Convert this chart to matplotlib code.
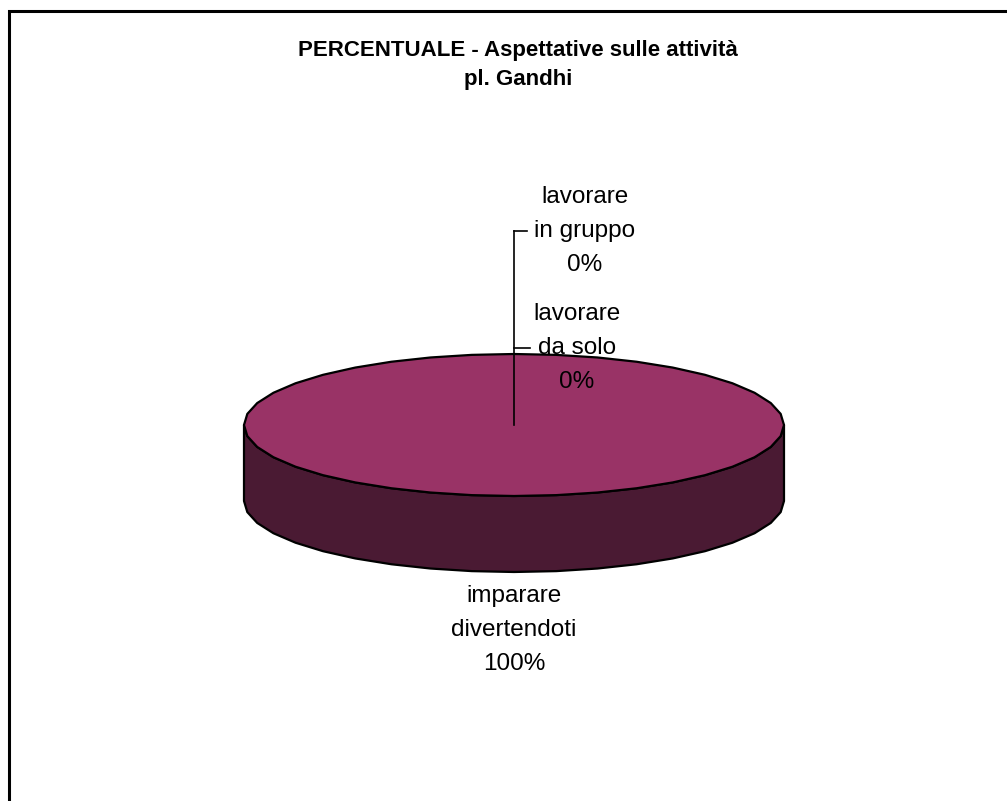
import matplotlib
matplotlib.use("Agg")
import matplotlib.pyplot as plt
import numpy as np

plt.rcParams['font.family'] = ['Liberation Sans', 'DejaVu Sans']

# data
categories = ["imparare\ndivertendoti", "lavorare\nin gruppo", "lavorare\nda solo"]
values = [100, 0, 0]
top_colors = ["#993366", "#9999FF", "#FFFFCC"]
side_colors = ["#4A1A33", "#4D4D80", "#808066"]
title = "PERCENTUALE - Aspettative sulle attività\npl. Gandhi"

# geometry of the 3d pie (pixels)
cx, cy = 514, 425
a, b = 270, 71
depth = 76

fig = plt.figure(figsize=(10.07, 8.01), dpi=100)
ax = fig.add_axes([0, 0, 1, 1])
ax.set_xlim(0, 1007)
ax.set_ylim(801, 0)
ax.axis("off")


def pt(theta_deg, dy=0):
    t = np.radians(theta_deg)
    return cx + a * np.sin(t), cy - b * np.cos(t) + dy


def arc(t0, t1, step=9.0):
    n = max(2, int(abs(t1 - t0) / step) + 1)
    ts = np.linspace(t0, t1, n)
    return ts


# slice angles, clockwise from 12 o'clock (start 0)
total = float(sum(values))
bounds = np.concatenate([[0], np.cumsum(values) / total * 360.0])

# side walls (front half only: 90..270)
for i, v in enumerate(values):
    if v <= 0:
        continue
    s, e = max(bounds[i], 90), min(bounds[i + 1], 270)
    if e <= s:
        continue
    ts = arc(s, e)
    xs, ys = pt(ts)
    xb, yb = pt(ts[::-1], depth)
    ax.fill(np.r_[xs, xb], np.r_[ys, yb], color=side_colors[i],
            ec="black", lw=1.6, zorder=2, joinstyle="round")

# top face
for i, v in enumerate(values):
    if v <= 0:
        continue
    ts = arc(bounds[i], bounds[i + 1])
    xs, ys = pt(ts)
    if v < total:
        xs, ys = np.r_[cx, xs], np.r_[cy, ys]
    ax.fill(xs, ys, color=top_colors[i], ec="black", lw=1.6, zorder=3,
            joinstyle="round")

# labels
fs = 17.5
ls = 1.72
mid = (bounds[:-1] + bounds[1:]) / 2
for i, v in enumerate(values):
    lab = "%s\n%d%%" % (categories[i], round(v / total * 100))
    if v > 0:
        x, y = pt(mid[i], depth)
        ax.text(x, y + 58, lab, ha="center", va="center", fontsize=fs,
                linespacing=ls, zorder=5)

# labels of empty slices with leader lines
zero_idx = [i for i, v in enumerate(values) if v == 0]
lab_y = {1: 231, 2: 348}
lab_x = {1: 585, 2: 577}
tick_end = {1: 527, 2: 530}
if zero_idx:
    top_y = min(lab_y[i] for i in zero_idx)
    ax.plot([cx, cx], [cy, top_y], color="black", lw=1.2, zorder=4)
    for i in zero_idx:
        ax.plot([cx, tick_end[i]], [lab_y[i], lab_y[i]], color="black",
                lw=1.2, zorder=4)
        lab = "%s\n%d%%" % (categories[i], round(values[i] / total * 100))
        ax.text(lab_x[i], lab_y[i], lab, ha="center", va="center",
                fontsize=fs, linespacing=ls, zorder=5)

# title
ax.text(518, 65, title, ha="center", va="center", fontsize=16,
        fontweight="bold", linespacing=1.55)

# chart border (clipped at right and bottom)
ax.plot([9, 9, 1010], [805, 11, 11], color="black", lw=2.2,
        solid_joinstyle="miter", clip_on=False)

fig.savefig("out.png", dpi=100)
